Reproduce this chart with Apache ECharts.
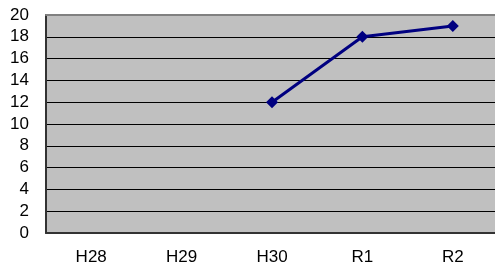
<!DOCTYPE html>
<html>
<head>
<meta charset="utf-8">
<script src="https://cdn.jsdelivr.net/npm/echarts@6/dist/echarts.min.js"></script>
<style>
  html, body { margin: 0; padding: 0; background: #fff; overflow: hidden; }
  /* 图表右边超出画面一点，原图也是这样被截掉的 */
  #main { width: 502px; height: 267px; }
</style>
</head>
<body>
<div id="main"></div>
<script>
var years = ['H28', 'H29', 'H30', 'R1', 'R2']
var counts = [null, null, 12, 18, 19]
var yTicks = { min: 0, max: 20, interval: 2 }

var chart = echarts.init(document.getElementById('main'))

var labelFont = {
    color: '#000',
    fontSize: 17,
    fontFamily: 'Liberation Sans, Arial, sans-serif'
}

var option = {
    animation: false,
    grid: {
        left: 46,
        right: 4,
        top: 15,
        bottom: 34,
        show: true,
        backgroundColor: '#c0c0c0',
        borderWidth: 0
    },
    xAxis: [{
        type: 'category',
        data: years,
        boundaryGap: true,
        axisLine: { lineStyle: { color: '#333', width: 2 } },
        axisTick: { inside: true, length: 5, lineStyle: { color: '#000' } },
        axisLabel: Object.assign({ margin: 16 }, labelFont)
    }, {
        // 上边框（灰色）
        type: 'category',
        data: years,
        position: 'top',
        axisLine: { lineStyle: { color: '#808080', width: 2 } },
        axisTick: { show: false },
        axisLabel: { show: false }
    }],
    yAxis: {
        type: 'value',
        min: yTicks.min,
        max: yTicks.max,
        interval: yTicks.interval,
        axisLine: { show: true, lineStyle: { color: '#333', width: 2 } },
        axisTick: { show: false },
        axisLabel: Object.assign({ margin: 17 }, labelFont),
        splitLine: { lineStyle: { color: '#000', width: 1 } }
    },
    series: [{
        type: 'line',
        data: counts,
        connectNulls: false,
        symbol: 'diamond',
        symbolSize: 12,
        lineStyle: { color: '#000080', width: 3 },
        itemStyle: { color: '#000080' }
    }]
}

chart.setOption(option)
</script>
</body>
</html>
